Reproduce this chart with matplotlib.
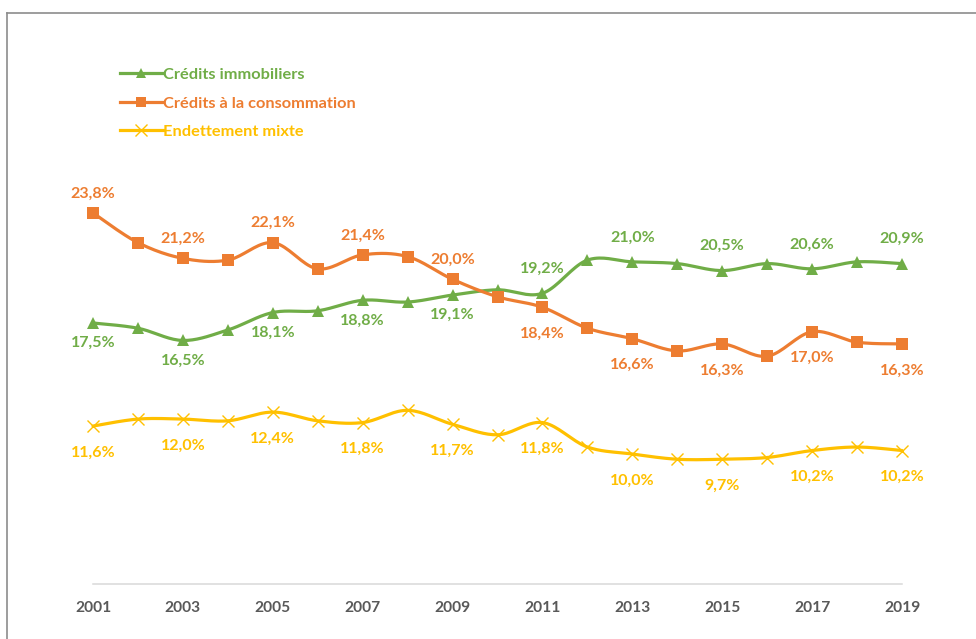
import numpy as np
import matplotlib
matplotlib.use("Agg")
import matplotlib.pyplot as plt
from matplotlib.lines import Line2D

years = list(range(2001, 2020))
immo = [17.5, 17.2, 16.5, 17.1, 18.1, 18.2, 18.8, 18.7, 19.1, 19.4,
        19.2, 21.1, 21.0, 20.9, 20.5, 20.9, 20.6, 21.0, 20.9]
conso = [23.8, 22.1, 21.2, 21.1, 22.1, 20.6, 21.4, 21.3, 20.0, 19.0,
         18.4, 17.2, 16.6, 15.9, 16.3, 15.6, 17.0, 16.4, 16.3]
mixte = [11.6, 12.0, 12.0, 11.9, 12.4, 11.9, 11.8, 12.5, 11.7, 11.1,
         11.8, 10.4, 10.0, 9.7, 9.7, 9.8, 10.2, 10.4, 10.2]
tick_years = list(range(2001, 2020, 2))

GREEN, ORANGE, YELLOW = "#70AD47", "#ED7D31", "#FFC000"
plt.rcParams["font.family"] = ["Lato", "DejaVu Sans"]


def smooth(x, y, n=20):
    # courbe lissée façon Excel (Catmull-Rom / Bézier, tension 1/6)
    x = np.asarray(x, float)
    y = np.asarray(y, float)
    xs, ys = [], []
    for i in range(len(x) - 1):
        p0 = np.array([x[max(i - 1, 0)], y[max(i - 1, 0)]])
        p1 = np.array([x[i], y[i]])
        p2 = np.array([x[i + 1], y[i + 1]])
        p3 = np.array([x[min(i + 2, len(x) - 1)], y[min(i + 2, len(x) - 1)]])
        c1 = p1 + (p2 - p0) / 6
        c2 = p2 - (p3 - p1) / 6
        t = np.linspace(0, 1, n)[:, None]
        pts = ((1 - t) ** 3) * p1 + 3 * ((1 - t) ** 2) * t * c1 + 3 * (1 - t) * t ** 2 * c2 + t ** 3 * p2
        xs.extend(pts[:, 0])
        ys.extend(pts[:, 1])
    return xs, ys


fig = plt.figure(figsize=(9.76, 6.39), dpi=100)
ax = fig.add_axes([0.0953, 0.0861, 0.8289, 0.8669])

series = [
    ("Crédits immobiliers", immo, GREEN, "^", dict(ms=8, mew=0)),
    ("Crédits à la consommation", conso, ORANGE, "s", dict(ms=8, mew=0)),
    ("Endettement mixte", mixte, YELLOW, "x", dict(ms=9, mew=1)),
]
for name, vals, col, mk, mkw in series:
    sx, sy = smooth(years, vals)
    ax.plot(sx, sy, color=col, lw=2.3, solid_capstyle="round", zorder=2, clip_on=False)
    ax.plot(years, vals, ls="none", marker=mk, color=col, zorder=3, clip_on=False, **mkw)

# étiquettes de données (années impaires)
FS = 11.5
for i, yr in enumerate(years):
    if yr % 2 == 0:
        continue
    first = yr <= 2009
    ax.annotate(f"{conso[i]:.1f}%".replace(".", ","), (yr, conso[i]),
                xytext=(0, 14 if first else -19), textcoords="offset points",
                ha="center", va="center", color=ORANGE, fontsize=FS, fontweight="bold")
    ax.annotate(f"{immo[i]:.1f}%".replace(".", ","), (yr, immo[i]),
                xytext=(0, -14.5 if first else 17.5), textcoords="offset points",
                ha="center", va="center", color=GREEN, fontsize=FS, fontweight="bold")
    ax.annotate(f"{mixte[i]:.1f}%".replace(".", ","), (yr, mixte[i]),
                xytext=(0, -19), textcoords="offset points",
                ha="center", va="center", color=YELLOW, fontsize=FS, fontweight="bold")

ax.set_xlim(2001, 2019)
ax.set_ylim(2.56, 34.27)
ax.set_xticks(tick_years)
ax.set_xticklabels([str(y) for y in tick_years], fontsize=11.2, fontweight="bold", color="#595959")
ax.tick_params(axis="x", length=0, pad=12)
ax.set_yticks([])
for s in ("left", "right", "top"):
    ax.spines[s].set_visible(False)
ax.spines["bottom"].set_color("#D9D9D9")
ax.spines["bottom"].set_linewidth(1.1)

handles = [Line2D([], [], color=c, lw=2.3, marker=m, ms=7 if m != "x" else 8,
                  mew=0 if m != "x" else 1) for _, _, c, m, _ in series]
leg = fig.legend(handles, [s[0] for s in series], loc="upper left",
                 bbox_to_anchor=(118 / 976 - 0.013, 1 - 53 / 639), frameon=False,
                 handlelength=2.6, handletextpad=0.0, labelspacing=0.85,
                 prop={"weight": "bold", "size": 11.8})
for txt, (_, _, c, _, _) in zip(leg.get_texts(), series):
    txt.set_color(c)

# cadre gris du graphique
fig.add_artist(Line2D([7 / 976, 1], [1 - 13 / 639] * 2, color="#8C8C8C", lw=1.2))
fig.add_artist(Line2D([7 / 976] * 2, [0, 1 - 13 / 639], color="#8C8C8C", lw=1.2))

fig.savefig("out.png", dpi=100)
